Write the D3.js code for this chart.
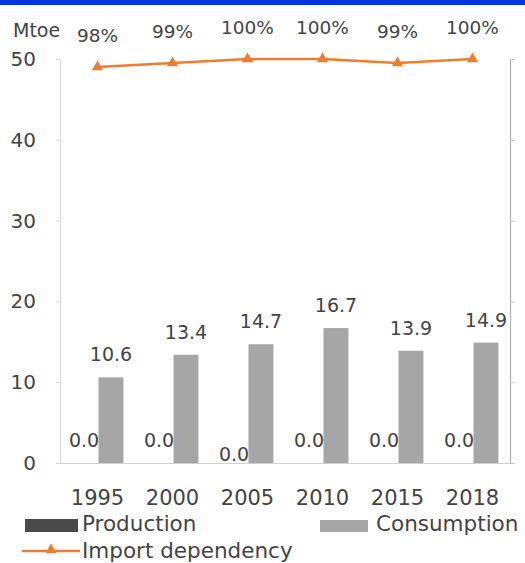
<!DOCTYPE html>
<html>
<head>
<meta charset="utf-8">
<script src="https://cdn.jsdelivr.net/npm/d3@7"></script>
<style>
  html, body { margin: 0; padding: 0; background: #fff; }
  svg { display: block; font-family: "DejaVu Sans", sans-serif; }
</style>
</head>
<body>
<svg id="chart" width="525" height="563"></svg>
<script>
const years = ["1995", "2000", "2005", "2010", "2015", "2018"];
const production = [0.0, 0.0, 0.0, 0.0, 0.0, 0.0];
const consumption = [10.6, 13.4, 14.7, 16.7, 13.9, 14.9];
const importDependency = [98, 99, 100, 100, 99, 100];
const leftTicks = [0, 10, 20, 30, 40, 50];
const rightTicks = [0, 20, 40, 60, 80, 100];
const seriesNames = ["Production", "Consumption"];

const svg = d3.select("#chart");
const W = 525, H = 563;
const plot = { left: 60, right: 510, top: 59, bottom: 463 };
const textColor = "#444444";
const colors = { Production: "#4a4a4a", Consumption: "#a6a6a6", line: "#ED7D31" };

// blue band at top
svg.append("rect").attr("x", 0).attr("y", 0).attr("width", W).attr("height", 5).attr("fill", "#0a2fdc");

const x = d3.scaleBand().domain(years).range([plot.left, plot.right]).padding(0);
const x1 = d3.scaleBand().domain(seriesNames).range([0, x.bandwidth()]).paddingInner(0.074).paddingOuter(0.43);
const y = d3.scaleLinear().domain([0, 50]).range([plot.bottom, plot.top]);
const yR = d3.scaleLinear().domain([0, 100]).range([plot.bottom, plot.top]);

// left axis
const leftAxis = svg.append("g").attr("transform", `translate(${plot.left},0)`)
  .call(d3.axisLeft(y).tickValues(leftTicks).tickSize(4).tickPadding(20).tickFormat(d3.format("d")));
leftAxis.select(".domain").attr("stroke", "#d9d9d9").attr("stroke-width", 1);
leftAxis.selectAll(".tick line").attr("stroke", "#d9d9d9");
leftAxis.selectAll(".tick text").attr("fill", textColor).attr("font-size", 20).attr("font-family", "DejaVu Sans");

// right axis
const rightAxis = svg.append("g").attr("transform", `translate(${plot.right},0)`)
  .call(d3.axisRight(yR).tickValues(rightTicks).tickSize(5).tickFormat(""));
rightAxis.select(".domain").attr("stroke", "#b0b0b0").attr("stroke-width", 1.2);
rightAxis.selectAll(".tick line").attr("stroke", "#c8c8c8");

// bottom axis
const bottomAxis = svg.append("g").attr("transform", `translate(0,${plot.bottom})`)
  .call(d3.axisBottom(x).tickSize(0).tickPadding(27));
bottomAxis.select(".domain").attr("stroke", "#d0d0d0").attr("stroke-width", 1.2);
bottomAxis.selectAll(".tick text").attr("fill", textColor).attr("font-size", 21).attr("font-family", "DejaVu Sans");

// unit label
svg.append("text").attr("x", 13).attr("y", 37).attr("fill", textColor).attr("font-size", 19).text("Mtoe");

// bars
const data = years.map((yr, i) => ({ year: yr, Production: production[i], Consumption: consumption[i] }));
const groups = svg.append("g").selectAll("g").data(data).join("g")
  .attr("transform", d => `translate(${x(d.year)},0)`);
groups.selectAll("rect").data(d => seriesNames.map(s => ({ key: s, value: d[s], year: d.year })))
  .join("rect")
  .attr("x", d => x1(d.key))
  .attr("width", x1.bandwidth())
  .attr("y", d => y(d.value))
  .attr("height", d => y(0) - y(d.value))
  .attr("fill", d => colors[d.key]);

// value labels (Excel nudges the colliding 2005 production label down)
const nudge = { "2005|Production": 14 };
groups.selectAll("text.val").data(d => seriesNames.map(s => ({ key: s, value: d[s], year: d.year })))
  .join("text").attr("class", "val")
  .attr("x", d => x1(d.key) + x1.bandwidth() / 2)
  .attr("y", d => y(d.value) - 16 + (nudge[d.year + "|" + d.key] || 0))
  .attr("text-anchor", "middle")
  .attr("fill", textColor)
  .attr("font-size", 19)
  .text(d => d3.format(".1f")(d.value));

// import dependency line
const lineData = years.map((yr, i) => ({ year: yr, v: importDependency[i] }));
const line = d3.line().x(d => x(d.year) + x.bandwidth() / 2).y(d => yR(d.v));
svg.append("path").datum(lineData).attr("d", line)
  .attr("fill", "none").attr("stroke", colors.line).attr("stroke-width", 2.5);
svg.append("g").selectAll("path").data(lineData).join("path")
  .attr("transform", d => `translate(${x(d.year) + x.bandwidth() / 2},${yR(d.v)})`)
  .attr("d", d3.symbol(d3.symbolTriangle, 55))
  .attr("fill", colors.line);
svg.append("g").selectAll("text").data(lineData).join("text")
  .attr("x", d => x(d.year) + x.bandwidth() / 2)
  .attr("y", d => yR(d.v) - 25)
  .attr("text-anchor", "middle")
  .attr("fill", textColor)
  .attr("font-size", 18.5)
  .text(d => d.v + "%");

// legend
const lg = svg.append("g").attr("font-size", 21.5).attr("fill", textColor);
lg.append("rect").attr("x", 25).attr("y", 519).attr("width", 53).attr("height", 13).attr("fill", colors.Production);
lg.append("text").attr("x", 82).attr("y", 531).text(seriesNames[0]);
lg.append("rect").attr("x", 320).attr("y", 520).attr("width", 48).attr("height", 12).attr("fill", colors.Consumption);
lg.append("text").attr("x", 376).attr("y", 531).text(seriesNames[1]);
lg.append("line").attr("x1", 22).attr("x2", 80).attr("y1", 551).attr("y2", 551)
  .attr("stroke", colors.line).attr("stroke-width", 2.5);
lg.append("path").attr("transform", "translate(51,550)").attr("d", d3.symbol(d3.symbolTriangle, 55)).attr("fill", colors.line);
lg.append("text").attr("x", 82).attr("y", 558).text("Import dependency");
</script>
</body>
</html>
